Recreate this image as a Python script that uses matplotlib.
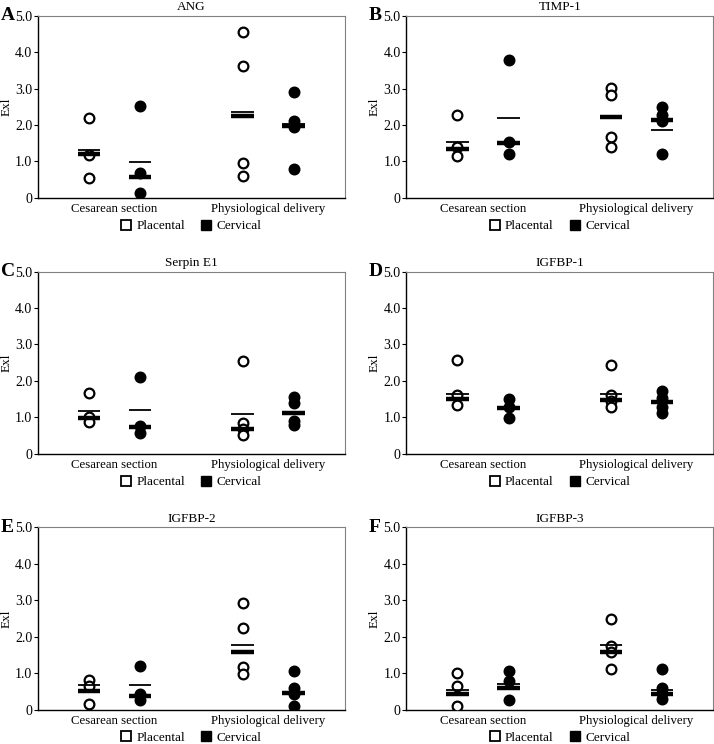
import numpy as np
import matplotlib.pyplot as plt
from matplotlib.lines import Line2D

plt.rcParams['font.family'] = ['Liberation Serif', 'DejaVu Serif']

titles = ["ANG", "TIMP-1", "Serpin E1", "IGFBP-1", "IGFBP-2", "IGFBP-3"]
letters = ["A", "B", "C", "D", "E", "F"]
groups = ["Cesarean section", "Physiological delivery"]

# points per panel: placental CS, cervical CS, placental PD, cervical PD
plac_cs = [[2.19, 1.19, 0.55], [2.28, 1.39, 1.16], [1.67, 1.02, 0.87],
           [2.58, 1.61, 1.35], [0.81, 0.64, 0.16], [1.02, 0.64, 0.09]]
cerv_cs = [[2.53, 0.68, 0.14], [3.79, 1.52, 1.21], [2.12, 0.76, 0.57],
           [1.51, 1.28, 0.97], [1.19, 0.42, 0.28], [1.05, 0.78, 0.28]]
plac_pd = [[4.56, 3.63, 0.96, 0.61], [3.01, 2.83, 1.66, 1.41],
           [2.54, 0.85, 0.68, 0.51], [2.43, 1.61, 1.46, 1.29],
           [2.92, 2.23, 1.17, 0.99], [2.50, 1.74, 1.58, 1.12]]
cerv_pd = [[2.91, 2.10, 1.94, 0.78], [2.49, 2.28, 2.10, 1.20],
           [1.55, 1.39, 0.89, 0.78], [1.72, 1.53, 1.29, 1.12],
           [1.06, 0.60, 0.44, 0.09], [1.12, 0.60, 0.46, 0.30]]

# thin line (mean) and thick line (median), order as above
means = [[1.32, 0.99, 2.36, 2.03], [1.52, 2.19, 2.23, 1.85],
         [1.17, 1.20, 1.09, 1.13], [1.65, 1.25, 1.65, 1.42],
         [0.67, 0.69, 1.78, 0.47], [0.54, 0.71, 1.78, 0.55]]
medians = [[1.20, 0.57, 2.24, 1.97], [1.33, 1.51, 2.21, 2.13],
           [0.97, 0.73, 0.69, 1.11], [1.51, 1.27, 1.47, 1.41],
           [0.52, 0.39, 1.58, 0.46], [0.44, 0.59, 1.59, 0.44]]

xpos = [1, 2, 4, 5]
fig = plt.figure(figsize=(7.14, 7.44), dpi=100)

lefts = [0.053, 0.569]
bottoms = [0.734, 0.390, 0.046]
w, h = 0.430, 0.245

for i in range(6):
    ax = fig.add_axes([lefts[i % 2], bottoms[i // 2], w, h])
    sets = [plac_cs[i], cerv_cs[i], plac_pd[i], cerv_pd[i]]
    for j, vals in enumerate(sets):
        face = 'white' if j % 2 == 0 else 'black'
        ax.plot([xpos[j]] * len(vals), vals, 'o', ms=7, mfc=face,
                mec='black', mew=1.6, zorder=3)
        ax.hlines(means[i][j], xpos[j] - 0.22, xpos[j] + 0.22,
                  color='black', lw=1.3, zorder=4)
        ax.hlines(medians[i][j], xpos[j] - 0.22, xpos[j] + 0.22,
                  color='black', lw=3.2, zorder=4)
    ax.set_xlim(0, 6)
    ax.set_ylim(0, 5)
    ax.set_yticks([0, 1, 2, 3, 4, 5])
    ax.set_yticklabels(["0", "1.0", "2.0", "3.0", "4.0", "5.0"], fontsize=10)
    ax.set_xticks([1.5, 4.5])
    ax.set_xticklabels(groups, fontsize=9.2)
    ax.tick_params(axis='x', length=0, pad=4)
    ax.tick_params(axis='y', length=3, pad=1)
    ax.set_ylabel("Exl", fontsize=9.5, labelpad=2)
    ax.set_title(titles[i], fontsize=9.5, pad=4)
    for s in ['top', 'right']:
        ax.spines[s].set_color('#808080')
    ax.spines['left'].set_linewidth(1.0)
    ax.spines['bottom'].set_linewidth(1.0)
    handles = [Line2D([], [], marker='s', ls='', mfc='white', mec='black',
                      mew=1.3, ms=7),
               Line2D([], [], marker='s', ls='', mfc='black', mec='black',
                      ms=7)]
    ax.legend(handles, ["Placental", "Cervical"], loc='upper center',
              bbox_to_anchor=(0.5, -0.085), ncol=2, frameon=False,
              fontsize=9.5, handlelength=0.8, handletextpad=0.4,
              columnspacing=1.2, borderpad=0)
    fig.text(lefts[i % 2] - 0.052, bottoms[i // 2] + h, letters[i],
             fontsize=14, fontweight='bold', va='center', ha='left')

fig.savefig("out.png", dpi=100)
